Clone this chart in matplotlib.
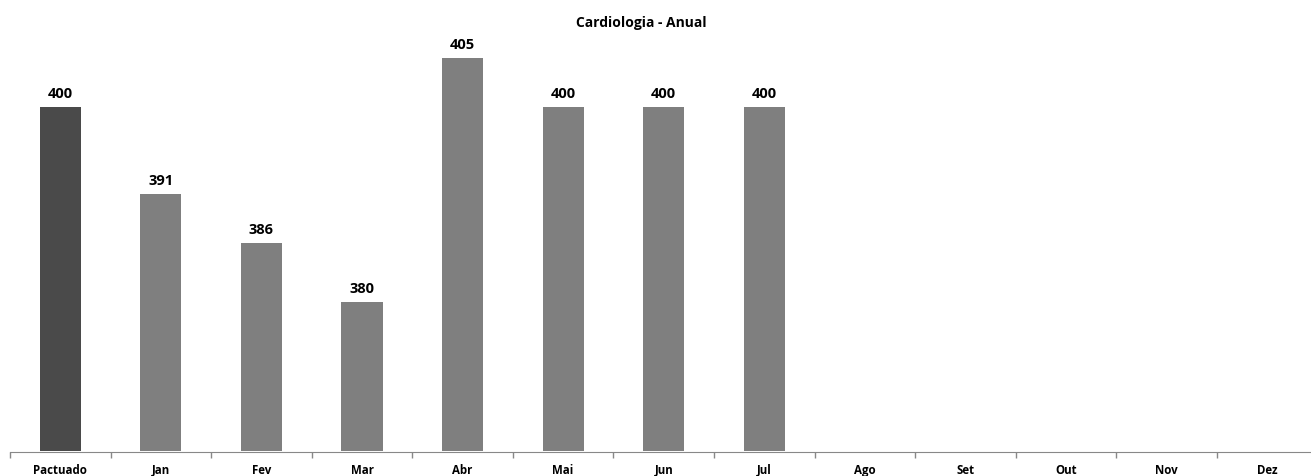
import matplotlib.pyplot as plt
import numpy as np

categories = ['Pactuado', 'Jan', 'Fev', 'Mar', 'Abr', 'Mai', 'Jun', 'Jul',
              'Ago', 'Set', 'Out', 'Nov', 'Dez']
values = [400, 391, 386, 380, 405, 400, 400, 400, None, None, None, None, None]
colors = ['#4a4a4a'] + ['#7f7f7f'] * 12

W, H = 1311, 477
ymin, ymax = 364.6, 409.6
fig = plt.figure(figsize=(W / 100, H / 100), dpi=100)
# plot area in pixels: left 10, baseline ~452, category width ~100.6
ax = fig.add_axes([10 / W, 24.5 / H, 1307.5 / W, 438.3 / H])

x = np.arange(len(categories))
for i, v in enumerate(values):
    if v is None:
        continue
    ax.bar(x[i], v - ymin, bottom=ymin, width=0.41, color=colors[i], zorder=2)
    ax.annotate(str(v), (x[i], v), xytext=(0, 7), textcoords='offset pixels',
                ha='center', va='bottom', fontsize=10.5, fontweight='bold',
                family='Open Sans', color='#000000')

ax.set_xlim(-0.5, len(categories) - 0.5)
ax.set_ylim(ymin, ymax)
ax.set_yticks([])
ax.set_xticks(x)
ax.set_xticklabels(categories, fontsize=8.3, fontweight='bold', family='Open Sans')
ax.set_xticks(np.arange(-0.5, len(categories), 1), minor=True)
ax.tick_params(axis='x', which='major', length=0, pad=8)
ax.tick_params(axis='x', which='minor', length=4, color='#888888', width=1)
for s in ['top', 'right', 'left']:
    ax.spines[s].set_visible(False)
ax.spines['bottom'].set_color('#888888')

fig.text(641 / W, 1 - 23 / H, 'Cardiologia - Anual', ha='center', va='center',
         fontsize=10, fontweight='bold', family='Open Sans')

fig.savefig('out.png', dpi=100)
